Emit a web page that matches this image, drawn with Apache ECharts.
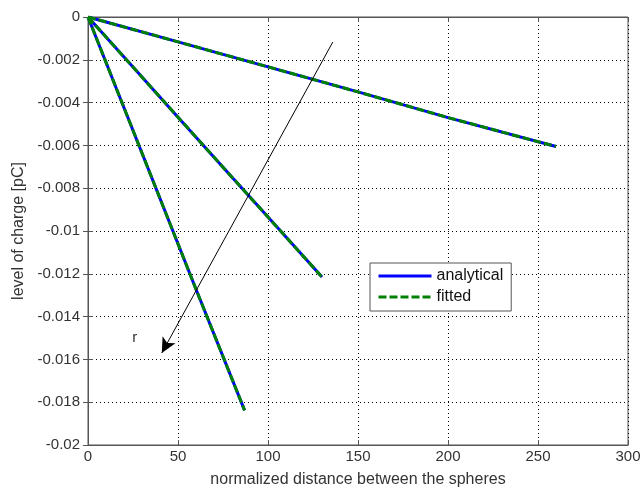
<!DOCTYPE html>
<html><head><meta charset="utf-8">
<script src="https://cdn.jsdelivr.net/npm/echarts@6/dist/echarts.min.js"></script>
<style>html,body{margin:0;padding:0;background:#fff}#c{width:644px;height:489px}</style>
</head><body><div id="c"></div>
<script>
// Data
var x1 = [0, 50, 100, 150, 200, 260];
var y1 = [0, -0.00116, -0.00233, -0.0035, -0.0047, -0.00605];
var x2 = [0, 25, 50, 75, 100, 130];
var y2 = [0, -0.00234, -0.00468, -0.00702, -0.00935, -0.01215];
var x3 = [0, 20, 40, 60, 87];
var y3 = [0, -0.00424, -0.00848, -0.01272, -0.01838];
var xTicks = [0, 50, 100, 150, 200, 250, 300];
var yTicks = [0, -0.002, -0.004, -0.006, -0.008, -0.01, -0.012, -0.014, -0.016, -0.018, -0.02];
var arrowStart = [136, -0.00117];
var arrowEnd = [41, -0.0157];
var rLabel = [26, -0.0150];

function pairs(xs, ys){ return xs.map(function(x,i){ return [x, ys[i]]; }); }
var lines = [pairs(x1,y1), pairs(x2,y2), pairs(x3,y3)];

var font = 'Liberation Sans, Arial, sans-serif';
var series = [];
lines.forEach(function(d){
  series.push({name:'analytical', type:'line', data:d, symbol:'none', z:2,
    lineStyle:{color:'#0000ff', width:3, type:'solid'}, itemStyle:{color:'#0000ff'}});
});
lines.forEach(function(d){
  series.push({name:'fitted', type:'line', data:d, symbol:'none', z:3,
    lineStyle:{color:'#008000', width:3, type:[8,3]}, itemStyle:{color:'#008000'}});
});
series.push({type:'line', data:[], symbol:'none', silent:true,
  markLine:{silent:true, symbol:['none','arrow'], symbolSize:[11,15],
    lineStyle:{color:'#000', width:1, type:'solid', curveness:0.06},
    label:{show:false},
    data:[[{coord:arrowStart},{coord:arrowEnd}]]},
  markPoint:{silent:true, symbol:'circle', symbolSize:0,
    label:{show:true, formatter:'r', color:'#333', fontSize:15, fontFamily:font},
    data:[{coord:rLabel}]}
});

var chart = echarts.init(document.getElementById('c'));
chart.setOption({
  animation:false,
  backgroundColor:'#fff',
  grid:{left:88, right:16, top:17, bottom:44, show:true, borderColor:'#555', borderWidth:1,
    backgroundColor:'#fff', containLabel:false, outerBoundsMode:'none'},
  legend:{
    data:['analytical','fitted'],
    orient:'vertical', left:370, top:263,
    backgroundColor:'#fff', borderColor:'#555', borderWidth:1, padding:[5,8,6,7],
    itemGap:5, itemWidth:53, itemHeight:14,
    itemStyle:{opacity:0},
    lineStyle:{width:3},
    textStyle:{fontFamily:font, fontSize:16, color:'#111'}
  },
  xAxis:[{
    type:'value', min:0, max:300, interval:50,
    name:'normalized distance between the spheres', nameLocation:'middle', nameGap:27,
    nameTextStyle:{fontFamily:font, fontSize:16, color:'#333'},
    axisLine:{show:true, onZero:false, lineStyle:{color:'#555'}},
    axisTick:{show:true, inside:true, length:5, lineStyle:{color:'#555'}},
    axisLabel:{fontFamily:font, fontSize:15, color:'#333', margin:4},
    splitLine:{show:true, lineStyle:{color:'#000', type:[1,3], width:1}}
  },{
    type:'value', min:0, max:300, interval:50, position:'top',
    axisLine:{show:true, lineStyle:{color:'#555'}},
    axisTick:{show:true, inside:true, length:5, lineStyle:{color:'#555'}},
    axisLabel:{show:false}, splitLine:{show:false}
  }],
  yAxis:[{
    type:'value', min:-0.02, max:0, interval:0.002,
    name:'level of charge [pC]', nameLocation:'middle', nameGap:61, nameRotate:90,
    nameTextStyle:{fontFamily:font, fontSize:16, color:'#333'},
    axisLine:{show:true, onZero:false, lineStyle:{color:'#555'}},
    axisTick:{show:true, inside:true, length:5, lineStyle:{color:'#555'}},
    axisLabel:{fontFamily:font, fontSize:15, color:'#333', margin:8,
      formatter:function(v){ return String(Number(v.toFixed(4))); }},
    splitLine:{show:true, lineStyle:{color:'#000', type:[1,3], width:1}}
  },{
    type:'value', min:-0.02, max:0, interval:0.002, position:'right',
    axisLine:{show:true, lineStyle:{color:'#555'}},
    axisTick:{show:true, inside:true, length:5, lineStyle:{color:'#555'}},
    axisLabel:{show:false}, splitLine:{show:false}
  }],
  series:series
});
</script></body></html>
